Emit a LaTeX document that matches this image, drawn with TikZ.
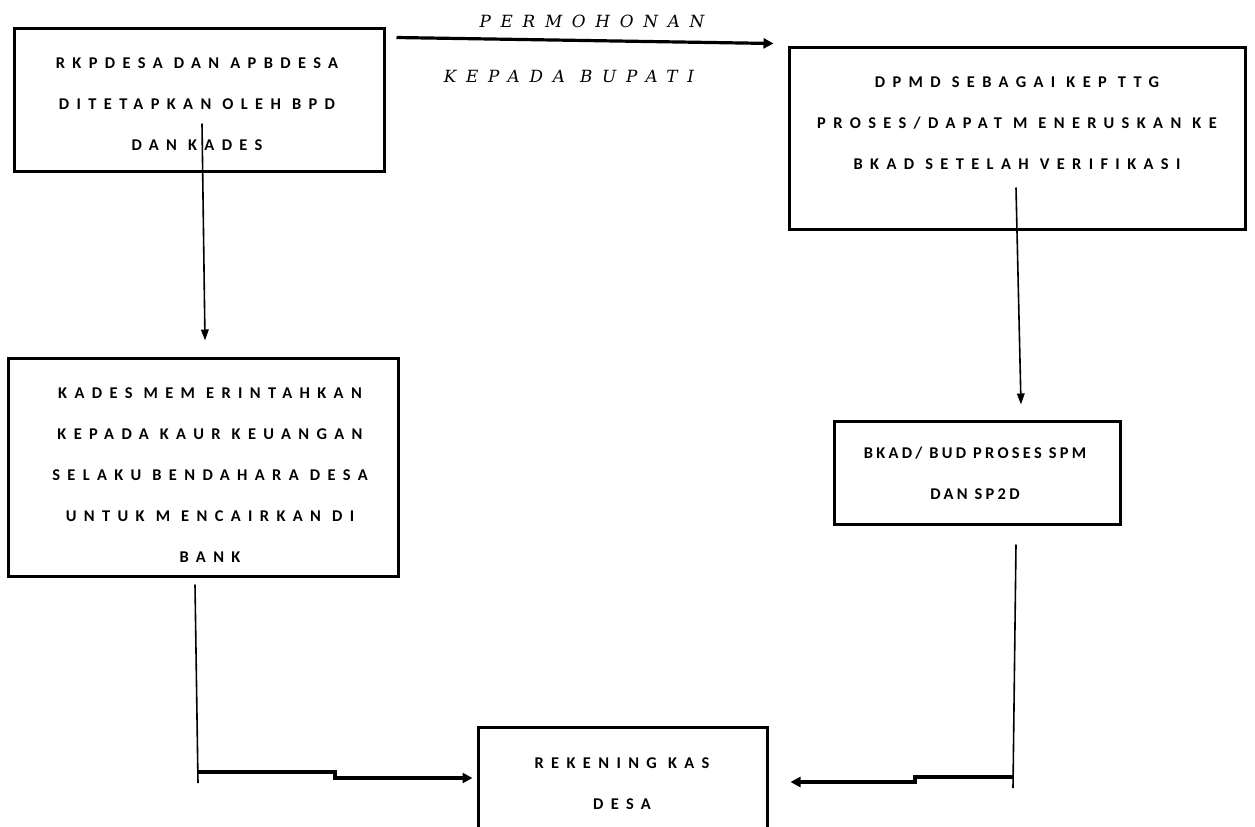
\documentclass[tikz,border=0pt]{standalone}
\usepackage{fontspec}
\usetikzlibrary{arrows.meta, positioning}

\newfontfamily\boxfont[LetterSpace=45]{Carlito}
\newfontfamily\lblfont[LetterSpace=58]{DejaVu Serif}

\begin{document}
\begin{tikzpicture}[x=0.5pt, y=-0.5pt,
  box/.style={draw, line width=1.5pt, inner sep=0pt},
  boxtext/.style={align=center, font=\boxfont\bfseries\fontsize{8.2}{20.5}\selectfont},
  lbl/.style={font=\lblfont\itshape\fontsize{8.4}{10}\selectfont},
  conn/.style={line width=0.8pt, -{Triangle[length=5.5pt, width=3.8pt]}},
  flow/.style={line width=1.6pt, -{Triangle[length=5pt, width=5pt]}}]

\useasboundingbox (0,0) rectangle (1255,826);
\clip (0,0) rectangle (1255,826);

% Boxes
\node[box, minimum width=185pt, minimum height=71.5pt] (rkp) at (199,99.5) {};
\node[box, minimum width=228pt, minimum height=91pt] (dpmd) at (1017,138) {};
\node[box, minimum width=195pt, minimum height=109pt] (kades) at (203,467) {};
\node[box, minimum width=143pt, minimum height=51.5pt] (bkad) at (977,472.5) {};
\node[box, minimum width=144.5pt, minimum height=57pt] (rek) at (622.5,784) {};

% Box texts
\node[boxtext] (rkptext) at (197,104) {RKPDESA DAN APBDESA\\DITETAPKAN OLEH BPD\\DAN KADES};
\node[boxtext] (dpmdtext) at (1017,123) {DPMD SEBAGAI KEP TTG\\PROSES/DAPAT M ENERUSKAN KE\\BKAD SETELAH VERIFIKASI};
\node[boxtext] (kadestext) at (210,475) {KADES MEM ERINTAHKAN\\KEPADA KAUR KEUANGAN\\SELAKU BENDAHARA DESA\\UNTUK M ENCAIRKAN DI\\BANK};
\node[boxtext, font=\boxfont\addfontfeature{LetterSpace=20}\bfseries\fontsize{8.2}{20.5}\selectfont]
  (bkadtext) at (975,473) {BKAD/ BUD PROSES SPM\\DAN SP2D};
\node[boxtext] (rektext) at (622,784) {REKENING KAS\\DESA};

% Request arrow
\draw[flow] ([xshift=5.5pt, yshift=-5.5pt]rkp.north east) -- ([xshift=-7pt, yshift=1pt]dpmd.north west);
\node[lbl] (permohonan) at (592,21) {PERMOHONAN};
\node[lbl] (kepada) at (569,76) {KEPADA BUPATI};

% Downward arrows
\draw[conn] ([xshift=1.5pt, yshift=24.5pt]rkp.south) -- ([xshift=1pt, yshift=8pt]kades.north);
\draw[conn] ([xshift=-0.5pt, yshift=21.5pt]dpmd.south) -- ([xshift=22pt, yshift=7.5pt]bkad.north);

% Left branch to rekening
\coordinate (lend) at (198,783);
\coordinate (lcorner) at (197,772);
\coordinate (lstep) at (335,772);
\draw[line width=0.8pt] ([xshift=-4pt, yshift=-3.5pt]kades.south) -- (lend);
\draw[flow] (lcorner) -- (lstep) -- ++(0,6) -- ([xshift=-2pt, yshift=3pt]rek.west);

% Right branch to rekening
\coordinate (rend) at (1013,788);
\coordinate (rcorner) at (1013,777);
\coordinate (rstep) at (915,777);
\draw[line width=0.8pt] ([xshift=19.5pt, yshift=-9.5pt]bkad.south) -- (rend);
\draw[flow] (rcorner) -- (rstep) -- ++(0,5) -- ([xshift=11pt, yshift=1pt]rek.east);

\end{tikzpicture}
\end{document}
